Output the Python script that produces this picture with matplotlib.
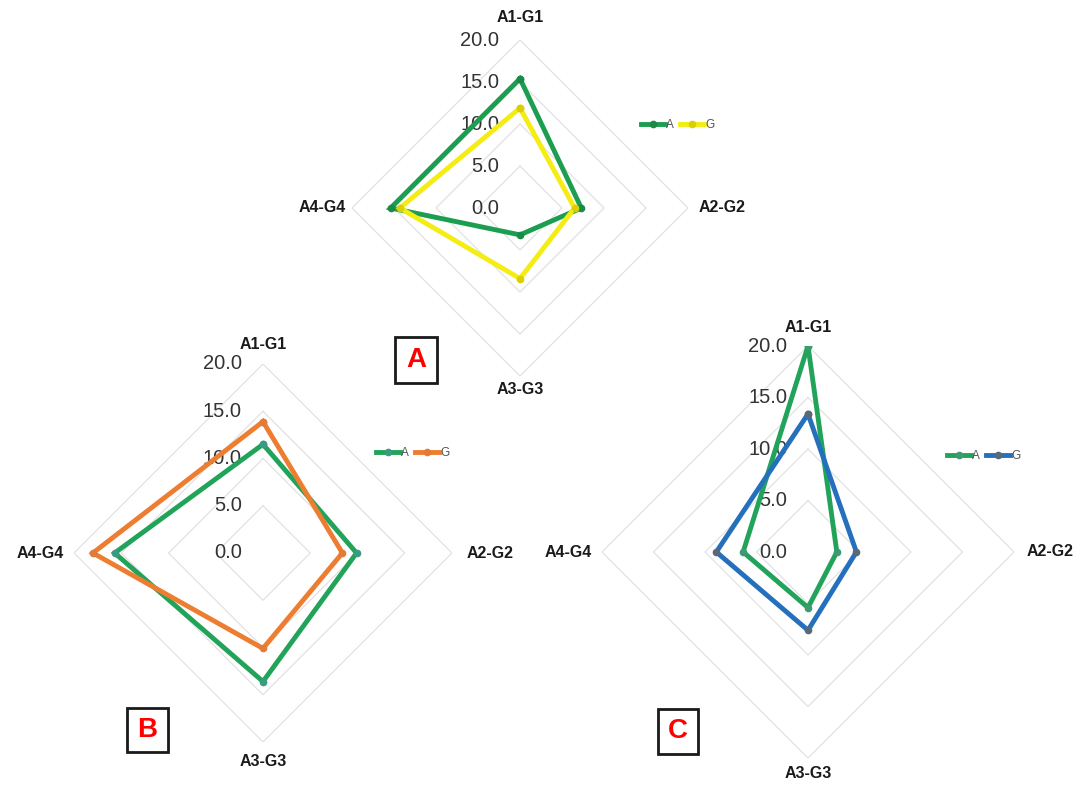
import numpy as np
import matplotlib
matplotlib.use("Agg")
import matplotlib.pyplot as plt
from matplotlib.patches import Rectangle

plt.rcParams["font.family"] = ["Liberation Sans", "DejaVu Sans"]

# Radar axes and scale
categories = ["A1-G1", "A2-G2", "A3-G3", "A4-G4"]
ticks = [0, 5, 10, 15, 20]
series_names = ["A", "G"]

# Panel A values
panel_a_A = [15.4, 7.3, 3.2, 15.4]
panel_a_G = [11.9, 6.5, 8.4, 14.3]

# Panel B values
panel_b_A = [11.5, 9.9, 13.6, 15.7]
panel_b_G = [13.9, 8.4, 10.1, 18.0]

# Panel C values
panel_c_A = [20.0, 2.8, 5.4, 6.3]
panel_c_G = [13.4, 4.7, 7.6, 8.9]

W, H = 1076, 788
fig = plt.figure(figsize=(W / 100, H / 100), dpi=100)
fig.patch.set_facecolor("white")

angles = np.linspace(0, 2 * np.pi, len(categories), endpoint=False)
closed = np.append(angles, angles[0])


def close(vals):
    return list(vals) + [vals[0]]


def radar(cx, cy, R, a_vals, g_vals, a_col, a_mk, g_col, g_mk,
          label_off, legend_xy, box, letter):
    ax = fig.add_axes([(cx - R) / W, 1 - (cy + R) / H, 2 * R / W, 2 * R / H],
                      projection="polar")
    ax.set_theta_zero_location("N")
    ax.set_theta_direction(-1)
    ax.set_ylim(0, 20)
    ax.set_xticks([])
    ax.set_yticks([])
    ax.grid(False)
    ax.spines["polar"].set_visible(False)
    ax.patch.set_visible(False)

    # diamond gridlines
    for t in ticks[1:]:
        ax.plot(closed, [t] * len(closed), color="#e2e2e2", lw=0.9, zorder=1)

    # radial tick labels along the top spoke
    for t in ticks:
        ax.annotate(f"{t:.1f}", xy=(0, t), xytext=(-21, 0),
                    textcoords="offset pixels", ha="right", va="center",
                    fontsize=14.5, color="#333333", zorder=2,
                    annotation_clip=False)

    # category labels outside each vertex
    for ang, name, off in zip(angles, categories, label_off):
        ax.annotate(name, xy=(ang, 20), xytext=off, textcoords="offset pixels",
                    ha="center", va="center", fontsize=11.5, fontweight="bold",
                    color="#1a1a1a", annotation_clip=False)

    la, = ax.plot(closed, close(a_vals), color=a_col, lw=3.5, marker="o",
                  ms=4.5, mfc=a_mk, mec=a_mk, zorder=3,
                  solid_joinstyle="miter")
    lg, = ax.plot(closed, close(g_vals), color=g_col, lw=3.5, marker="o",
                  ms=4.5, mfc=g_mk, mec=g_mk, zorder=4,
                  solid_joinstyle="miter")

    fig.legend([la, lg], series_names, loc="center left",
               bbox_to_anchor=(legend_xy[0] / W, 1 - legend_xy[1] / H),
               ncol=2, frameon=False, fontsize=8.5, handlelength=2.0,
               handletextpad=0.15, columnspacing=0.5, borderpad=0,
               borderaxespad=0, labelcolor="#555555")

    x0, y0, x1, y1 = box
    fig.add_artist(Rectangle((x0 / W, 1 - y1 / H), (x1 - x0) / W, (y1 - y0) / H,
                             transform=fig.transFigure, fill=True, fc="white",
                             ec="#1a1a1a", lw=2))
    fig.text((x0 + x1) / 2 / W, 1 - (y0 + y1) / 2 / H, letter, ha="center",
             va="center", fontsize=20, fontweight="bold", color="#ff0000")
    return ax


radar(520, 208, 168, panel_a_A, panel_a_G,
      "#1c9e50", "#1b8a48", "#f4ec12", "#d9d000",
      [(0, 22), (34, 0), (0, -14), (-30, 0)],
      (641, 125), (395, 337, 437, 383), "A")

radar(263, 553, 189, panel_b_A, panel_b_G,
      "#22a35a", "#3d9a82", "#ed7d31", "#e27a3a",
      [(0, 19), (38, 0), (0, -19), (-34, 0)],
      (376, 453), (127, 708, 168, 752), "B")

radar(808, 552, 206, panel_c_A, panel_c_G,
      "#22a35a", "#3d9a72", "#2570bd", "#5a6878",
      [(0, 19), (36, 0), (0, -16), (-34, 0)],
      (947, 456), (658, 709, 698, 754), "C")

fig.savefig("out.png", dpi=100, facecolor="white")
